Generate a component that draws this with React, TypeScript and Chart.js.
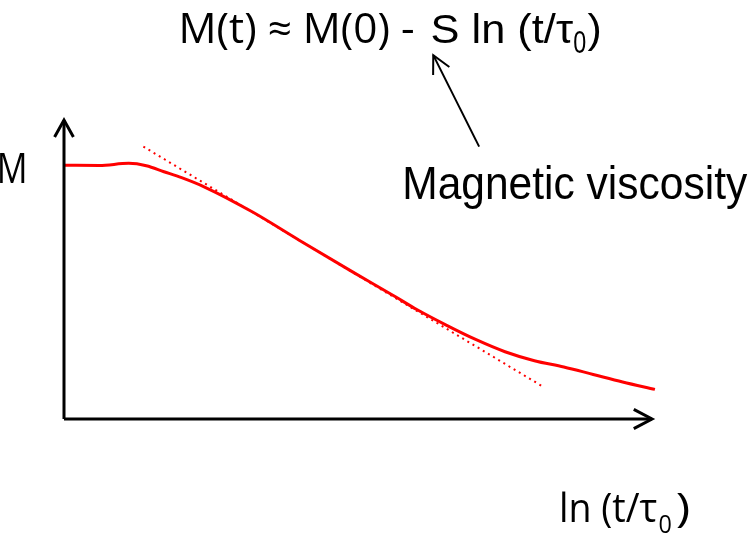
import React, { useEffect, useRef } from "react";
import { Chart, registerables } from "chart.js";

Chart.register(...registerables);

// Magnetisation decay curve, M versus ln(t/τ0) (arbitrary units)
const lnT = [0, 0.6, 1.1, 1.4, 1.7, 2.0, 2.4, 3.2, 4.0, 4.9, 5.6, 6.0, 6.5, 7.0, 7.5, 8.0, 8.5, 9.0, 9.5, 10.05];
const magnetisation = [8.49, 8.48, 8.55, 8.47, 8.27, 8.07, 7.75, 6.93, 5.98, 4.93, 4.13, 3.66, 3.14, 2.66, 2.25, 1.95, 1.74, 1.49, 1.24, 0.99];

// Straight-line fit in the logarithmic region (slope = -S)
const fitLnT = [1.35, 8.13];
const fitM = [9.11, 1.1];

// Axis extents
const axisMax = 10;

// Text
const formulaLeft = "M(t) ≈ M(0) -";
const formulaRight = "S ln (t/τ";
const subscriptZero = "0";
const closeParen = ")";
const viscosityLabel = "Magnetic viscosity";
const yAxisLabel = "M";
const xAxisLabel = "ln (t/τ";

// Where the viscosity arrow starts and ends (data units)
const pointerFrom = { x: 7.06, y: 9.11 };
const pointerTo = { x: 6.28, y: 12.17 };

const ARIAL = "'Liberation Sans', Arial, sans-serif";
const HUMANIST = "'Open Sans', 'Noto Sans', sans-serif";

type Box = { left: number; right: number; baseline: number; height: number };

function drawFitted(ctx: CanvasRenderingContext2D, text: string, family: string, ref: string, box: Box) {
  ctx.font = `100px ${family}`;
  const r = ctx.measureText(ref);
  const ratio = r.actualBoundingBoxAscent / 100;
  const size = box.height / ratio;
  ctx.font = `${size}px ${family}`;
  const m = ctx.measureText(text);
  const ink = m.actualBoundingBoxLeft + m.actualBoundingBoxRight;
  const sx = (box.right - box.left) / ink;
  ctx.save();
  ctx.translate(box.left, box.baseline);
  ctx.scale(sx, 1);
  ctx.textAlign = "left";
  ctx.textBaseline = "alphabetic";
  ctx.fillStyle = "#000";
  ctx.fillText(text, m.actualBoundingBoxLeft, 0);
  ctx.restore();
}

const annotations = {
  id: "annotations",
  afterDraw(chart: any) {
    const ctx: CanvasRenderingContext2D = chart.ctx;
    const xs = chart.scales.x;
    const ys = chart.scales.y;

    // formula
    drawFitted(ctx, formulaLeft, HUMANIST, "H", { left: 182.7, right: 413.3, baseline: 43.3, height: 30 });
    drawFitted(ctx, formulaRight, ARIAL, "H", { left: 431.7, right: 573.3, baseline: 42.7, height: 27.5 });
    drawFitted(ctx, subscriptZero, ARIAL, "H", { left: 574, right: 585.5, baseline: 53.3, height: 21 });
    drawFitted(ctx, closeParen, ARIAL, "H", { left: 587.5, right: 599.3, baseline: 42.7, height: 27.5 });

    // viscosity label
    drawFitted(ctx, viscosityLabel, ARIAL, "H", { left: 405, right: 748, baseline: 199.3, height: 32 });

    // axis labels
    drawFitted(ctx, yAxisLabel, HUMANIST, "H", { left: 0, right: 25, baseline: 182.7, height: 31 });
    drawFitted(ctx, xAxisLabel, HUMANIST, "l", { left: 561.7, right: 657, baseline: 521.7, height: 31.5 });
    drawFitted(ctx, subscriptZero, HUMANIST, "H", { left: 659.5, right: 671.5, baseline: 533, height: 18.5 });
    drawFitted(ctx, closeParen, HUMANIST, "l", { left: 677, right: 689, baseline: 521.7, height: 31.5 });

    // pointer arrow to S
    const x0 = xs.getPixelForValue(pointerFrom.x);
    const y0 = ys.getPixelForValue(pointerFrom.y);
    const x1 = xs.getPixelForValue(pointerTo.x);
    const y1 = ys.getPixelForValue(pointerTo.y);
    const ang = Math.atan2(y1 - y0, x1 - x0);
    const head = 20;
    const spread = (27 * Math.PI) / 180;
    ctx.save();
    ctx.strokeStyle = "#000";
    ctx.lineWidth = 2;
    ctx.lineCap = "butt";
    ctx.lineJoin = "miter";
    ctx.beginPath();
    ctx.moveTo(x0, y0);
    ctx.lineTo(x1, y1);
    ctx.stroke();
    ctx.beginPath();
    ctx.moveTo(x1 - head * Math.cos(ang - spread), y1 - head * Math.sin(ang - spread));
    ctx.lineTo(x1, y1);
    ctx.lineTo(x1 - head * Math.cos(ang + spread), y1 - head * Math.sin(ang + spread));
    ctx.stroke();
    ctx.restore();
  },
};

function pts(xs: number[], ys: number[]) {
  return xs.map((x, i) => ({ x, y: ys[i] }));
}

export default function App() {
  const ref = useRef<HTMLCanvasElement>(null);

  useEffect(() => {
    if (!ref.current) return;
    const black = "#000000";
    const red = "#ff0000";
    const chart = new Chart(ref.current, {
      type: "scatter",
      data: {
        datasets: [
          {
            data: [{ x: 0, y: 0 }, { x: 0, y: axisMax }],
            showLine: true,
            borderColor: black,
            borderWidth: 3,
            pointRadius: 0,
            clip: false,
          },
          {
            data: [{ x: 0, y: 0 }, { x: axisMax, y: 0 }],
            showLine: true,
            borderColor: black,
            borderWidth: 3,
            pointRadius: 0,
            clip: false,
          },
          {
            data: [{ x: -0.16, y: axisMax - 0.57 }, { x: 0, y: axisMax }, { x: 0.16, y: axisMax - 0.57 }],
            showLine: true,
            borderColor: black,
            borderWidth: 3,
            borderJoinStyle: "miter",
            pointRadius: 0,
            clip: false,
          },
          {
            data: [{ x: axisMax - 0.31, y: 0.32 }, { x: axisMax, y: 0 }, { x: axisMax - 0.31, y: -0.32 }],
            showLine: true,
            borderColor: black,
            borderWidth: 3,
            borderJoinStyle: "miter",
            pointRadius: 0,
            clip: false,
          },
          {
            data: pts(lnT, magnetisation),
            showLine: true,
            borderColor: red,
            borderWidth: 3,
            cubicInterpolationMode: "monotone",
            pointRadius: 0,
            clip: false,
          },
          {
            data: pts(fitLnT, fitM),
            showLine: true,
            borderColor: red,
            borderWidth: 2,
            borderDash: [2, 4],
            pointRadius: 0,
            clip: false,
          },
        ],
      },
      options: {
        animation: false,
        responsive: false,
        events: [],
        layout: { padding: { left: 64, right: 101, top: 120, bottom: 116 } },
        plugins: { legend: { display: false }, tooltip: { enabled: false } },
        scales: {
          x: { type: "linear", min: 0, max: axisMax, display: false },
          y: { type: "linear", min: 0, max: axisMax, display: false },
        },
      },
      plugins: [annotations],
    });
    return () => chart.destroy();
  }, []);

  return (
    <div style={{ position: "absolute", left: 0, top: 0, width: 753, height: 535, background: "#fff" }}>
      <canvas ref={ref} width={753} height={535} style={{ display: "block" }} />
    </div>
  );
}
